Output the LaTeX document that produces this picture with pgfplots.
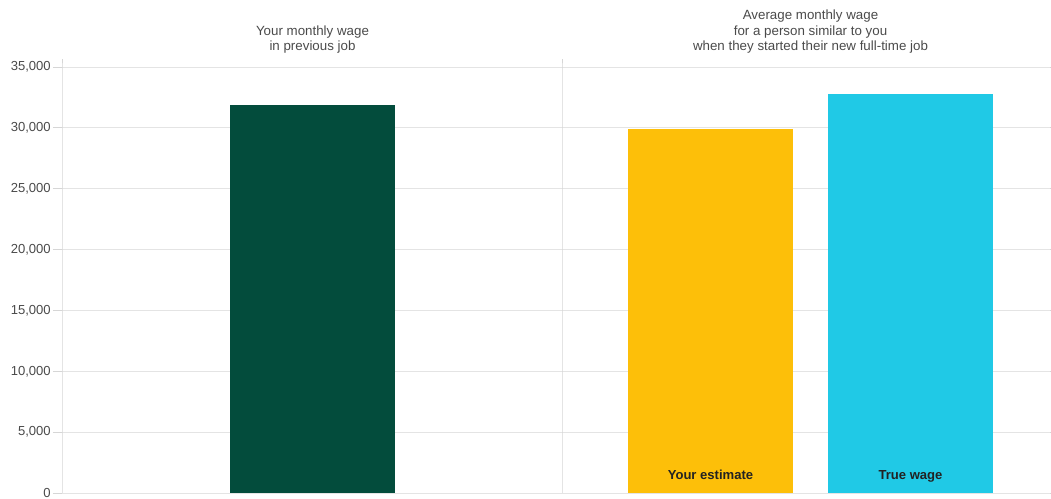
\documentclass[border=0pt]{standalone}
\usepackage{fontspec}
\setmainfont{Liberation Sans}
\usepackage{pgfplots}
\pgfplotsset{compat=1.18}
\definecolor{cgreen}{HTML}{034C3C}
\definecolor{cyellow}{HTML}{FDBF09}
\definecolor{ccyan}{HTML}{20C9E6}
\definecolor{cgrid}{HTML}{E4E4E4}
\definecolor{caxis}{HTML}{D6D6D6}
\definecolor{ctxt}{HTML}{4A4A4A}
\definecolor{clab}{HTML}{222222}
\begin{document}
\begin{tikzpicture}
\useasboundingbox (-46.5pt,-4.5pt) rectangle (741.75pt,369.75pt);
\begin{axis}[
  scale only axis,
  width=741pt, height=319.5pt,
  xmin=0, xmax=988,
  ymin=0, ymax=35000,
  xtick=\empty,
  ytick={0,5000,10000,15000,20000,25000,30000,35000},
  scaled y ticks=false,
  ymajorgrids,
  grid style={cgrid, line width=0.6pt},
  axis line style={draw=none},
  tick align=outside,
  major tick length=6.75pt,
  ytick style={caxis, line width=0.6pt},
  yticklabel style={font=\fontsize{9.8}{11}\selectfont, text=ctxt, anchor=east, inner sep=0pt, xshift=-1.5pt},
  /pgf/number format/.cd, fixed, 1000 sep={,}, assume math mode=true,
  /pgfplots/.cd,
  clip=false,
]
\addplot[ybar, bar shift=0pt, bar width=165, fill=cgreen, draw=none] coordinates {(250.5,31900)};
\addplot[ybar, bar shift=0pt, bar width=165, fill=cyellow, draw=none] coordinates {(648.5,29900)};
\addplot[ybar, bar shift=0pt, bar width=165, fill=ccyan, draw=none] coordinates {(848.5,32800)};
\draw[caxis, line width=0.6pt] (axis cs:0,0) -- (axis cs:0,35000) -- ++(0,6pt);
\draw[caxis, line width=0.6pt] (axis cs:500,0) -- (axis cs:500,35000) -- ++(0,6pt);
\node[anchor=south, inner sep=0pt, yshift=10pt, align=center, text=ctxt, font=\fontsize{10}{11.6}\selectfont] at (axis cs:250.5,35000) {Your monthly wage\\in previous job};
\node[anchor=south, inner sep=0pt, yshift=10pt, align=center, text=ctxt, font=\fontsize{10}{11.6}\selectfont] at (axis cs:748.5,35000) {Average monthly wage\\for a person similar to you\\when they started their new full-time job};
\node[anchor=base, inner sep=0pt, yshift=10pt, text=clab, font=\bfseries\fontsize{9.8}{11}\selectfont] at (axis cs:648.5,0) {Your estimate};
\node[anchor=base, inner sep=0pt, yshift=10pt, text=clab, font=\bfseries\fontsize{9.8}{11}\selectfont] at (axis cs:848.5,0) {True wage};
\end{axis}
\end{tikzpicture}
\end{document}
